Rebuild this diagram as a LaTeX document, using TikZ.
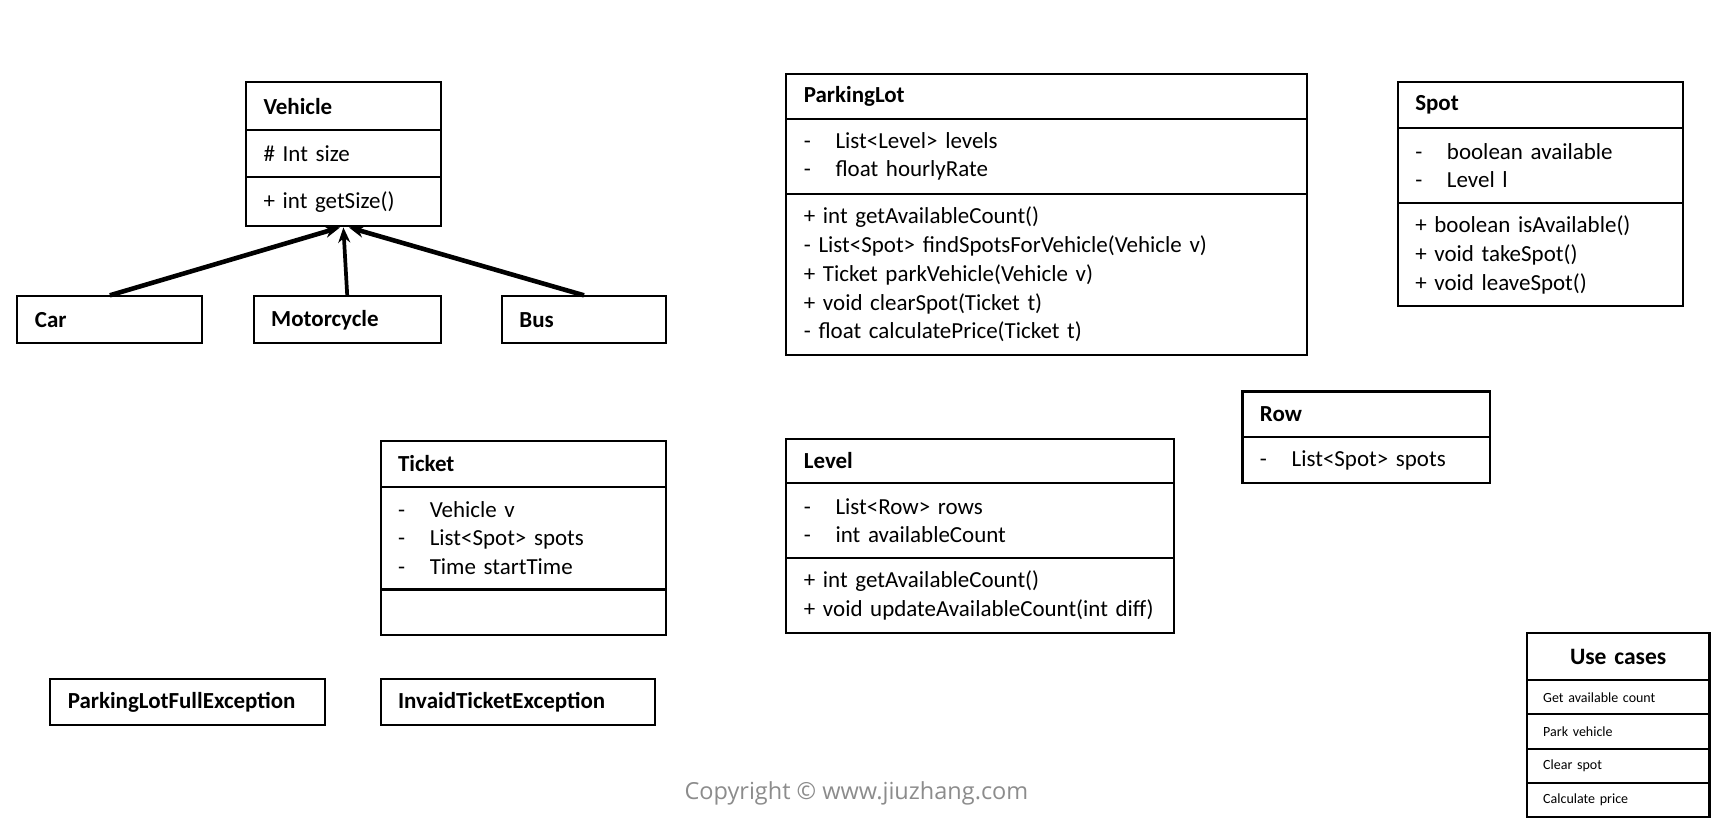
\documentclass[tikz,border=0pt]{standalone}
\usepackage{fontspec}
\setmainfont{Carlito}
\newfontfamily\copyfont{Open Sans}
\usetikzlibrary{arrows.meta}
\newcommand\ftxt{\fontsize{21}{26.3}\selectfont}
\newcommand\dashitem{\makebox[29pt][l]{-}}
\definecolor{copygray}{RGB}{140,140,140}
\tikzset{
  box/.style={draw, line width=1.9pt, anchor=north west, inner xsep=16pt, inner ysep=0pt, align=left, font=\ftxt},
  title/.style={box, font=\ftxt\bfseries},
  small/.style={box, inner xsep=15pt, font=\fontsize{12.8}{14}\selectfont},
  inherit/.style={line width=4.2pt, -{Stealth[length=14pt,width=11pt]}},
}
\begin{document}
\begin{tikzpicture}[x=1pt,y=-1pt]
\useasboundingbox (0,0) rectangle (1568,753.4);

% Vehicle
\node[title, text width=146pt, minimum width=178pt, minimum height=44pt] (vehT) at (224,74) {Vehicle};
\node[box, text width=146pt, minimum width=178pt, minimum height=43pt] (vehA) at (224,118) {\# Int size};
\node[box, text width=146pt, minimum width=178pt, minimum height=45pt] (vehM) at (224,161) {+ int getSize()};

% Subclasses
\node[title, text width=137pt, minimum width=169pt, minimum height=43pt] (car) at (15,270) {Car};
\node[title, text width=139pt, minimum width=171pt, minimum height=43pt] (moto) at (231,270) {Motorcycle};
\node[title, text width=118pt, minimum width=150pt, minimum height=43pt] (bus) at (458,270) {Bus};

\draw[inherit] (car.north) -- ([xshift=-3pt]vehM.south);
\draw[inherit, line width=3.4pt] (moto.north) -- (vehM.south);
\draw[inherit] (bus.north) -- ([xshift=5pt]vehM.south);

% ParkingLot
\node[title, text width=444pt, minimum width=476pt, minimum height=41pt] (plT) at (718,67) {ParkingLot};
\node[box, text width=444pt, minimum width=476pt, minimum height=68pt] (plA) at (718,108)
  {\dashitem List<Level> levels\\ \dashitem float hourlyRate};
\node[box, text width=444pt, minimum width=476pt, minimum height=148pt] (plM) at (718,176)
  {+ int getAvailableCount()\\ - List<Spot> findSpotsForVehicle(Vehicle v)\\ + Ticket parkVehicle(Vehicle v)\\ + void clearSpot(Ticket t)\\ - float calculatePrice(Ticket t)};

% Spot
\node[title, text width=229pt, minimum width=261pt, minimum height=42pt] (spT) at (1277,74) {Spot};
\node[box, text width=229pt, minimum width=261pt, minimum height=69pt] (spA) at (1277,116)
  {\dashitem boolean available\\ \dashitem Level l};
\node[box, text width=229pt, minimum width=261pt, minimum height=94pt] (spM) at (1277,185)
  {+ boolean isAvailable()\\ + void takeSpot()\\ + void leaveSpot()};

% Row
\node[title, text width=194pt, minimum width=226pt, minimum height=42pt] (rowT) at (1135,357) {Row};
\node[box, text width=194pt, minimum width=226pt, minimum height=42pt] (rowA) at (1135,399)
  {\dashitem List<Spot> spots};

% Ticket
\node[title, text width=229pt, minimum width=261pt, minimum height=42pt] (tkT) at (347,402) {Ticket};
\node[box, text width=229pt, minimum width=261pt, minimum height=94pt] (tkA) at (347,444)
  {\dashitem Vehicle v\\ \dashitem List<Spot> spots\\ \dashitem Time startTime};
\node[box, text width=229pt, minimum width=261pt, minimum height=42pt] (tkM) at (347,538) {};

% Level
\node[title, text width=322pt, minimum width=354pt, minimum height=41pt] (lvT) at (718,400) {Level};
\node[box, text width=322pt, minimum width=354pt, minimum height=68pt] (lvA) at (718,441)
  {\dashitem List<Row> rows\\ \dashitem int availableCount};
\node[box, text width=322pt, minimum width=354pt, minimum height=69pt] (lvM) at (718,509)
  {+ int getAvailableCount()\\ + void updateAvailableCount(int diff)};

% Exceptions
\node[title, text width=219pt, minimum width=251pt, minimum height=42pt] (plfe) at (45,620) {ParkingLotFullException};
\node[title, text width=219pt, minimum width=251pt, minimum height=42pt] (ite) at (347,620) {InvaidTicketException};

% Use cases
\node[box, align=center, text width=135pt, minimum width=167pt, minimum height=43pt, font=\fontsize{21.5}{24}\selectfont\bfseries] (ucT) at (1395,578) {Use cases};
\node[small, text width=137pt, minimum width=167pt, minimum height=31pt] (uc1) at (1395,621) {Get available count};
\node[small, text width=137pt, minimum width=167pt, minimum height=32pt] (uc2) at (1395,652) {Park vehicle};
\node[small, text width=137pt, minimum width=167pt, minimum height=31pt] (uc3) at (1395,684) {Clear spot};
\node[small, text width=137pt, minimum width=167pt, minimum height=31pt] (uc4) at (1395,715) {Calculate price};

% Copyright
\node[text=copygray, font=\copyfont\fontsize{21.5}{24}\selectfont] (copy) at (783,725) {Copyright © www.jiuzhang.com};
\end{tikzpicture}
\end{document}
